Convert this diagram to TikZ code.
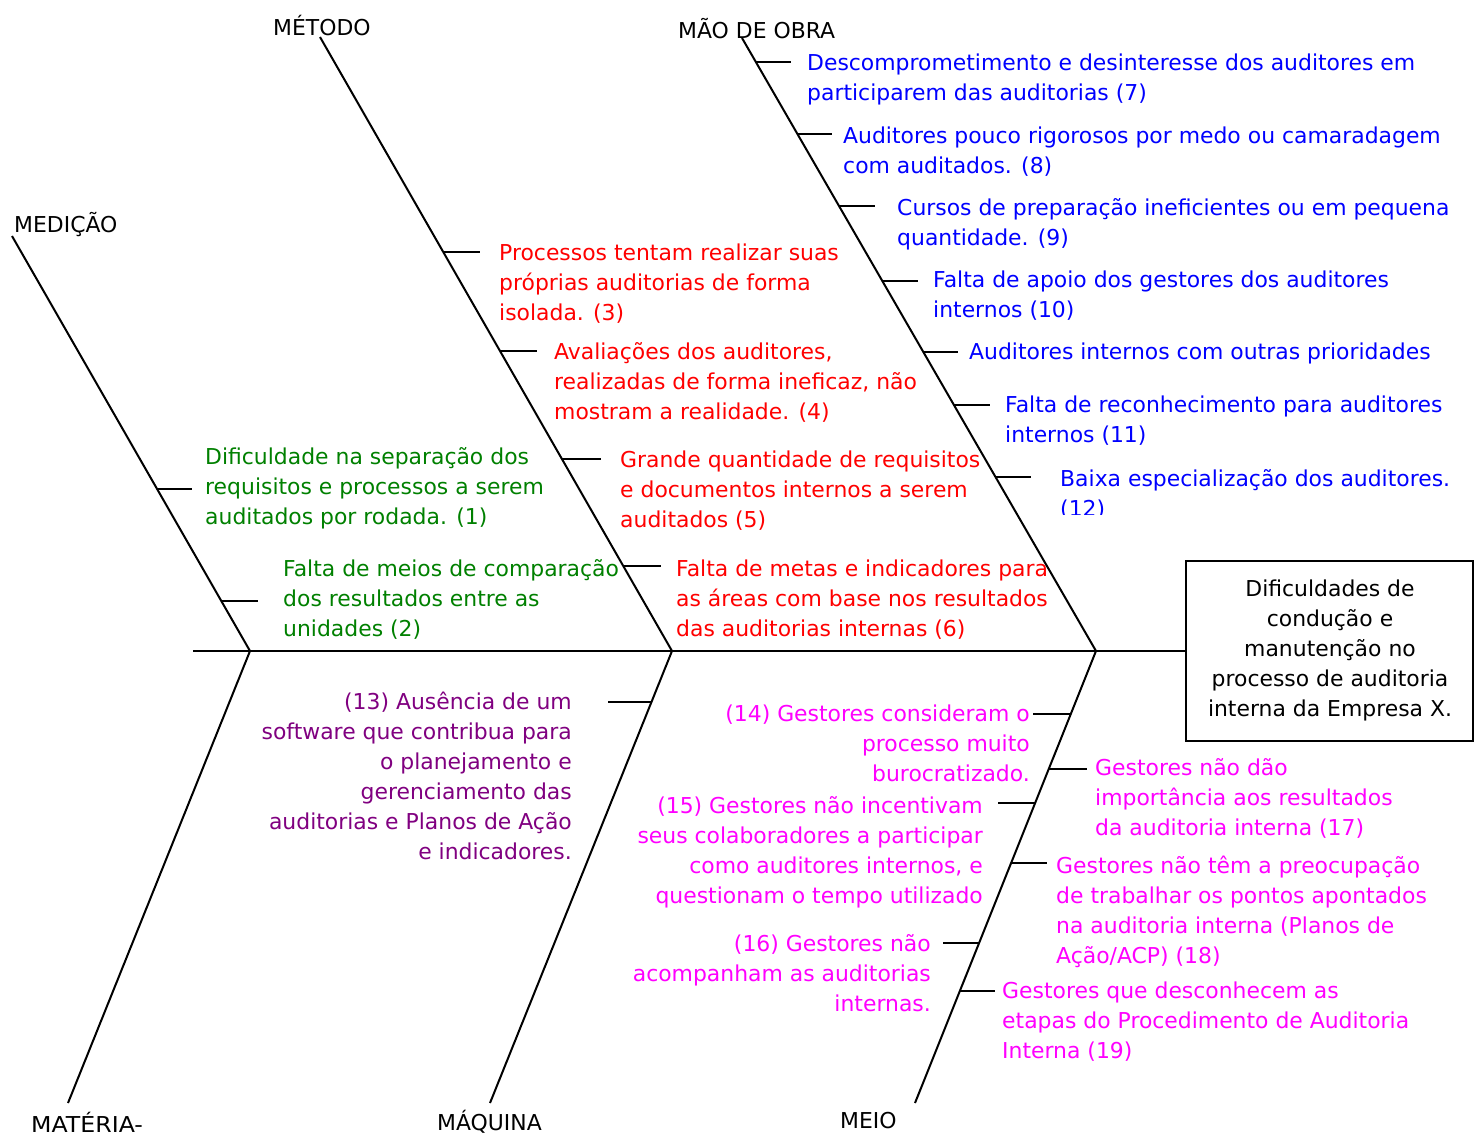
\documentclass[tikz,border=0pt]{standalone}
\usepackage{fontspec}
\setmainfont{DejaVu Sans}
\definecolor{cblue}{RGB}{0,0,255}
\definecolor{cred}{RGB}{255,0,0}
\definecolor{cgreen}{RGB}{0,128,0}
\definecolor{cpurple}{RGB}{128,0,128}
\definecolor{cmag}{RGB}{255,0,255}
\newcommand{\fsz}{\fontsize{21.9}{30}\selectfont}
\begin{document}
\begin{tikzpicture}[x=1pt,y=-1pt,
  bone/.style={line width=2pt},
  tickline/.style={line width=2pt},
  ltxt/.style={inner sep=0pt, font=\fsz, align=left, anchor=base west, yshift=3pt},
  rtxt/.style={inner sep=0pt, font=\fsz, align=right, anchor=base east, yshift=3pt},
  cat/.style={inner sep=0pt, font=\fsz, anchor=base west},
  effectbox/.style={draw, line width=2pt, minimum width=287pt, minimum height=180pt, inner sep=0pt}]
\useasboundingbox (0,0) rectangle (1474,1143);
% note: for multi-line nodes the base anchor is the baseline of the last line

% effect box
\node[effectbox] (effect) at (1329.5,651) {};
\node[inner sep=0pt, font=\fsz, align=center, anchor=base] (efftext) at (1330,716)
  {Dificuldades de\\condução e\\manutenção no\\processo de auditoria\\interna da Empresa X.};

% joints and ends
\coordinate (tail) at (193,651);
\coordinate (j1) at (250,651);
\coordinate (j2) at (672,651);
\coordinate (j3) at (1096,651);
\coordinate (tmed) at (12,236);
\coordinate (tmet) at (320,37);
\coordinate (tmao) at (742,38);
\coordinate (bmat) at (68,1103);
\coordinate (bmaq) at (490,1103);
\coordinate (bmeio) at (915,1103);

\draw[bone] (tail) -- (effect.west);
\draw[bone] (tmed) -- (j1) -- (bmat);
\draw[bone] (tmet) -- (j2) -- (bmaq);
\draw[bone] (tmao) -- (j3) -- (bmeio);

% category labels
\node[cat] (lmet) at (273,35) {MÉTODO};
\node[cat] (lmao) at (678,38) {MÃO DE OBRA};
\node[cat] (lmed) at (14,232) {MEDIÇÃO};
\node[cat, xscale=1.08, transform shape] (lmat) at (31,1132) {MATÉRIA-};
\node[cat] (lmaq) at (437,1130) {MÁQUINA};
\node[cat] (lmeio) at (840,1128) {MEIO};

% MÃO DE OBRA ticks and texts
\draw[tickline] (755.9,62) -- (791,62);
\draw[tickline] (797.4,134) -- (832,134);
\draw[tickline] (839.0,206) -- (875,206);
\draw[tickline] (882.3,281) -- (918,281);
\draw[tickline] (923.3,352) -- (958,352);
\draw[tickline] (953.9,405) -- (990,405);
\draw[tickline] (995.5,477) -- (1031,477);
\begin{scope}[every node/.style={text=cblue}]
\node[ltxt] (c7) at (807,103) {Descomprometimento e desinteresse dos auditores em\\participarem das auditorias (7)};
\node[ltxt] (c8) at (843,176) {Auditores pouco rigorosos por medo ou camaradagem\\com auditados. (8)};
\node[ltxt] (c9) at (897,248) {Cursos de preparação ineficientes ou em pequena\\quantidade. (9)};
\node[ltxt] (c10) at (933,320) {Falta de apoio dos gestores dos auditores\\internos (10)};
\node[ltxt] (cx) at (969,362) {Auditores internos com outras prioridades};
\node[ltxt] (c11) at (1005,445) {Falta de reconhecimento para auditores\\internos (11)};
\end{scope}
\begin{scope}
\clip (1040,455) rectangle (1474,514);
\node[ltxt, text=cblue] (c12) at (1060,519) {Baixa especialização dos auditores.\\(12)};
\end{scope}

% MÉTODO ticks and texts
\draw[tickline] (443.3,252) -- (480,252);
\draw[tickline] (500.0,351) -- (537,351);
\draw[tickline] (562.0,459) -- (601,459);
\draw[tickline] (623.3,566) -- (661,566);
\node[ltxt, text=cred] (c3) at (499,323) {Processos tentam realizar suas\\próprias auditorias de forma\\isolada. (3)};
\node[ltxt, text=cred] (c4) at (554,422) {Avaliações dos auditores,\\realizadas de forma ineficaz, não\\mostram a realidade. (4)};
\node[ltxt, text=cred] (c5) at (620,530) {Grande quantidade de requisitos\\e documentos internos a serem\\auditados (5)};
\node[ltxt, text=cred] (c6) at (676,639) {Falta de metas e indicadores para\\as áreas com base nos resultados\\das auditorias internas (6)};

% MEDIÇÃO ticks and texts
\draw[tickline] (157.1,489) -- (192,489);
\draw[tickline] (221.3,601) -- (258,601);
\node[ltxt, text=cgreen] (c1) at (205,527) {Dificuldade na separação dos\\requisitos e processos a serem\\auditados por rodada. (1)};
\node[ltxt, text=cgreen] (c2) at (283,639) {Falta de meios de comparação\\dos resultados entre as\\unidades (2)};

% MÁQUINA tick and text
\draw[tickline] (608,702) -- (651.5,702);
\node[rtxt, text=cpurple] (c13) at (572,862) {(13) Ausência de um\\software que contribua para\\o planejamento e\\gerenciamento das\\auditorias e Planos de Ação\\e indicadores.};

% MEIO ticks and texts
\draw[tickline] (1033,714) -- (1070.8,714);
\draw[tickline] (1048.8,769) -- (1087,769);
\draw[tickline] (998,803) -- (1035.1,803);
\draw[tickline] (1011.1,863) -- (1047,863);
\draw[tickline] (943,943) -- (979.1,943);
\draw[tickline] (959.9,991) -- (995,991);
\node[rtxt, text=cmag] (c14) at (1030,784) {(14) Gestores consideram o\\processo muito\\burocratizado.};
\node[rtxt, text=cmag] (c15) at (983,906) {(15) Gestores não incentivam\\seus colaboradores a participar\\como auditores internos, e\\questionam o tempo utilizado};
\node[rtxt, text=cmag] (c16) at (931,1014) {(16) Gestores não\\acompanham as auditorias\\internas.};
\node[ltxt, text=cmag] (c17) at (1095,838) {Gestores não dão\\importância aos resultados\\da auditoria interna (17)};
\node[ltxt, text=cmag] (c18) at (1056,966) {Gestores não têm a preocupação\\de trabalhar os pontos apontados\\na auditoria interna (Planos de\\Ação/ACP) (18)};
\node[ltxt, text=cmag] (c19) at (1002,1061) {Gestores que desconhecem as\\etapas do Procedimento de Auditoria\\Interna (19)};
\end{tikzpicture}
\end{document}
